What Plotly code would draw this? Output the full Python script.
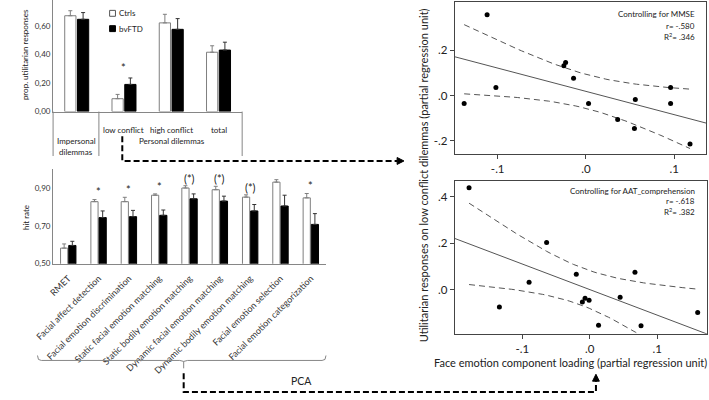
import numpy as np
import plotly.graph_objects as go

W, H = 709, 400
FONT = "Lato"

# ---------------- data ----------------
# Top-left: proportion of utilitarian responses
dil_cats = ["Impersonal", "low conflict", "high conflict", "total"]
dil_ctrl = [0.67, 0.09, 0.62, 0.415]
dil_ctrl_err = [0.035, 0.03, 0.06, 0.045]
dil_ftd = [0.645, 0.19, 0.575, 0.43]
dil_ftd_err = [0.047, 0.045, 0.075, 0.055]
dil_sig = ["", "*", "", ""]
dil_tickvals = [0.0, 0.2, 0.4, 0.6]
dil_ticktext = ["0,00", "0,20", "0,40", "0,60"]

# Bottom-left: emotion recognition hit rates
emo_cats = ["RMET", "Facial affect detection", "Facial emotion discrimination",
            "Static facial emotion matching", "Static bodily emotion matching",
            "Dynamic facial emotion matching", "Dynamic bodily emotion matching",
            "Facial emotion selection", "Facial emotion categorization"]
emo_ctrl = [0.582, 0.827, 0.827, 0.861, 0.899, 0.89, 0.851, 0.93, 0.847]
emo_ctrl_err = [0.022, 0.011, 0.023, 0.007, 0.012, 0.018, 0.012, 0.013, 0.023]
emo_ftd = [0.596, 0.743, 0.748, 0.755, 0.842, 0.83, 0.778, 0.804, 0.707]
emo_ftd_err = [0.022, 0.035, 0.033, 0.028, 0.026, 0.026, 0.034, 0.057, 0.057]
emo_sig = ["", "*", "*", "*", "(*)", "(*)", "(*)", "", "*"]
emo_tickvals = [0.5, 0.7, 0.9]
emo_ticktext = ["0,50", "0,70", "0,90"]

# Right: partial regression scatter plots
mmse_x = [-0.138, -0.112, -0.102, -0.025, -0.023, -0.014, 0.003, 0.036, 0.056, 0.055, 0.096, 0.096, 0.118]
mmse_y = [-0.035, 0.358, 0.036, 0.132, 0.147, 0.077, -0.035, -0.105, -0.017, -0.145, 0.036, -0.035, -0.214]
aat_x = [-0.179, -0.134, -0.090, -0.064, -0.020, -0.011, -0.007, -0.001, 0.013, 0.045, 0.067, 0.076, 0.160]
aat_y = [0.438, -0.075, 0.031, 0.202, 0.066, -0.053, -0.037, -0.046, -0.153, -0.033, 0.074, -0.156, -0.099]
scat_tickvals_x = [-0.1, 0.0, 0.1]
scat_ticktext_x = ["-.1", ".0", ".1"]
mmse_tickvals_y = [-0.2, 0.0, 0.2]
mmse_ticktext_y = ["-.2", ".0", ".2"]
aat_tickvals_y = [0.0, 0.2, 0.4]
aat_ticktext_y = [".0", ".2", ".4"]
mmse_stats = ["Controlling for MMSE", "r= -.580", "R<sup>2</sup>= .346"]
aat_stats = ["Controlling for AAT_comprehension", "r= -.618", "R<sup>2</sup>= .382"]

# ---------------- helpers ----------------
def PX(x):
    return x / W


def PY(y):
    return 1 - y / H


AX_GRAY = "#868686"

# axis ranges (layout)
mmse_xr = [-0.1488, 0.1362]
mmse_yr = [-0.258, 0.414]
aat_xr = [-0.2004, 0.1739]
aat_yr = [-0.19, 0.468]


def fit_band(x, y, xr):
    x = np.asarray(x, float)
    y = np.asarray(y, float)
    n = len(x)
    xm, ym = x.mean(), y.mean()
    sxx = ((x - xm) ** 2).sum()
    b1 = ((x - xm) * (y - ym)).sum() / sxx
    b0 = ym - b1 * xm
    s = np.sqrt(((y - (b0 + b1 * x)) ** 2).sum() / (n - 2))
    t = 2.201  # t(0.975, df=11)
    lx = np.array(xr)
    ly = b0 + b1 * lx
    bx = np.linspace(x.min(), x.max(), 60)
    by = b0 + b1 * bx
    half = t * s * np.sqrt(1 / n + (bx - xm) ** 2 / sxx)
    return lx, ly, bx, by + half, by - half


fig = go.Figure()

# ---- top-left bars ----
fig.add_trace(go.Bar(
    x=dil_cats, y=dil_ctrl, name="Ctrls", xaxis="x", yaxis="y",
    marker=dict(color="white", line=dict(color="#7f7f7f", width=1)),
    error_y=dict(type="data", array=dil_ctrl_err, arrayminus=[0] * len(dil_ctrl),
                 symmetric=False, color="#7f7f7f", thickness=1, width=2),
    showlegend=False))
fig.add_trace(go.Bar(
    x=dil_cats, y=dil_ftd, name="bvFTD", xaxis="x", yaxis="y",
    marker=dict(color="black", line=dict(color="black", width=1)),
    error_y=dict(type="data", array=dil_ftd_err, arrayminus=[0] * len(dil_ftd),
                 symmetric=False, color="#333333", thickness=1, width=2),
    showlegend=False))

# ---- bottom-left bars ----
fig.add_trace(go.Bar(
    x=emo_cats, y=emo_ctrl, name="Ctrls", xaxis="x2", yaxis="y2",
    marker=dict(color="white", line=dict(color="#7f7f7f", width=1)),
    error_y=dict(type="data", array=emo_ctrl_err, arrayminus=[0] * len(emo_ctrl),
                 symmetric=False, color="#7f7f7f", thickness=1, width=2),
    showlegend=False))
fig.add_trace(go.Bar(
    x=emo_cats, y=emo_ftd, name="bvFTD", xaxis="x2", yaxis="y2",
    marker=dict(color="black", line=dict(color="black", width=1)),
    error_y=dict(type="data", array=emo_ftd_err, arrayminus=[0] * len(emo_ftd),
                 symmetric=False, color="#333333", thickness=1, width=2),
    showlegend=False))

# ---- scatter panels ----
for (sx, sy, xr, xa, ya) in [(mmse_x, mmse_y, mmse_xr, "x3", "y3"),
                             (aat_x, aat_y, aat_xr, "x4", "y4")]:
    lx, ly, bx, up, lo = fit_band(sx, sy, xr)
    fig.add_trace(go.Scatter(x=lx, y=ly, mode="lines", xaxis=xa, yaxis=ya,
                             line=dict(color="#555555", width=1), showlegend=False))
    for band in (up, lo):
        fig.add_trace(go.Scatter(x=bx, y=band, mode="lines", xaxis=xa, yaxis=ya,
                                 line=dict(color="#555555", width=1, dash="6px,4px"),
                                 showlegend=False))
    fig.add_trace(go.Scatter(x=sx, y=sy, mode="markers", xaxis=xa, yaxis=ya,
                             marker=dict(color="black", size=5), showlegend=False))

tick_font_small = dict(family=FONT, size=8, color="#333333")
scat_tick_font = dict(family=FONT, size=11.5, color="#222222")

fig.update_layout(
    width=W, height=H,
    margin=dict(l=0, r=0, t=0, b=0),
    paper_bgcolor="white", plot_bgcolor="white",
    font=dict(family=FONT, color="#222222"),
    barmode="group", bargap=0.46, bargroupgap=0.12,
    showlegend=False,
    xaxis=dict(domain=[PX(36), PX(230)], anchor="y", showline=True, linecolor=AX_GRAY,
               linewidth=1, showticklabels=False, ticks="", showgrid=False,
               range=[-0.5, 3.5], fixedrange=True),
    yaxis=dict(domain=[PY(113), PY(0)], anchor="x", range=[0, 0.78], showline=True,
               linecolor=AX_GRAY, linewidth=1, tickvals=dil_tickvals, ticktext=dil_ticktext,
               ticks="", showgrid=False, zeroline=False, tickfont=tick_font_small),
    xaxis2=dict(domain=[PX(36), PX(316)], anchor="y2", showline=True, linecolor=AX_GRAY,
                linewidth=1, ticks="", showgrid=False, range=[-0.5, 8.5], tickangle=-45,
                ticklabelstandoff=5,
                tickfont=dict(family=FONT, size=9, color="#333333")),
    yaxis2=dict(domain=[PY(267), PY(171)], anchor="x2", range=[0.5, 1.0], showline=True,
                linecolor=AX_GRAY, linewidth=1, tickvals=emo_tickvals, ticktext=emo_ticktext,
                ticks="", showgrid=False, zeroline=False, tickfont=tick_font_small),
    xaxis3=dict(domain=[PX(448), PX(706)], anchor="y3", range=mmse_xr, showline=True,
                mirror=True, linecolor="#444444", linewidth=1, ticks="outside", ticklen=4,
                tickcolor="#444444", tickvals=scat_tickvals_x, ticktext=scat_ticktext_x,
                showgrid=False, zeroline=False, tickfont=scat_tick_font),
    yaxis3=dict(domain=[PY(156), PY(2)], anchor="x3", range=mmse_yr, showline=True,
                mirror=True, linecolor="#444444", linewidth=1, ticks="outside", ticklen=4,
                tickcolor="#444444", tickvals=mmse_tickvals_y, ticktext=mmse_ticktext_y,
                showgrid=False, zeroline=False, tickfont=scat_tick_font),
    xaxis4=dict(domain=[PX(448), PX(707)], anchor="y4", range=aat_xr, showline=True,
                mirror=True, linecolor="#444444", linewidth=1, ticks="outside", ticklen=4,
                tickcolor="#444444", tickvals=scat_tickvals_x, ticktext=scat_ticktext_x,
                showgrid=False, zeroline=False, tickfont=scat_tick_font),
    yaxis4=dict(domain=[PY(338), PY(183)], anchor="x4", range=aat_yr, showline=True,
                mirror=True, linecolor="#444444", linewidth=1, ticks="outside", ticklen=4,
                tickcolor="#444444", tickvals=aat_tickvals_y, ticktext=aat_ticktext_y,
                showgrid=False, zeroline=False, tickfont=scat_tick_font),
)

shapes = []
ann = []


def line(x0, y0, x1, y1, color=AX_GRAY, width=1, dash=None):
    d = dict(type="line", xref="paper", yref="paper", x0=PX(x0), y0=PY(y0),
             x1=PX(x1), y1=PY(y1), line=dict(color=color, width=width))
    if dash:
        d["line"]["dash"] = dash
    shapes.append(d)


def path(pts, color="black", width=1, dash=None, fill=None, closed=False):
    s = "M " + " L ".join(f"{PX(x):.5f},{PY(y):.5f}" for x, y in pts)
    if closed:
        s += " Z"
    d = dict(type="path", xref="paper", yref="paper", path=s,
             line=dict(color=color, width=width))
    if dash:
        d["line"]["dash"] = dash
    if fill:
        d["fillcolor"] = fill
    shapes.append(d)


def text(x, y, t, size=8, xanchor="center", yanchor="middle", angle=0, color="#222222"):
    ann.append(dict(xref="paper", yref="paper", x=PX(x), y=PY(y), text=t, showarrow=False,
                    xanchor=xanchor, yanchor=yanchor, textangle=angle,
                    font=dict(family=FONT, size=size, color=color)))


# top-left multi-level category separators
line(36, 113, 36, 158)
line(83, 113, 83, 158)
line(230, 113, 230, 158)
for cat in dil_cats[1:]:
    ann.append(dict(xref="x", yref="paper", x=cat, y=PY(124.5), text=cat, showarrow=False,
                    font=dict(family=FONT, size=8, color="#222222")))
text(60, 143, "Impersonal", 8)
text(60, 154, "dilemmas", 8)
text(158, 143, "Personal dilemmas", 8)

# legend
shapes.append(dict(type="rect", xref="paper", yref="paper", x0=PX(94), x1=PX(100),
                   y0=PY(16.5), y1=PY(10.5), fillcolor="white",
                   line=dict(color="#555555", width=1)))
shapes.append(dict(type="rect", xref="paper", yref="paper", x0=PX(94), x1=PX(100),
                   y0=PY(32), y1=PY(26), fillcolor="black", line=dict(color="black", width=1)))
text(101.5, 13.5, "Ctrls", 8, xanchor="left")
text(101.5, 29, "bvFTD", 8, xanchor="left")

# y titles of bar charts
text(8, 55, "prop. utilitarian responses", 8, angle=-90)
text(8, 220, "hit rate", 8, angle=-90)

# significance marks
for cat, c, ce, f, fe, s in zip(dil_cats, dil_ctrl, dil_ctrl_err, dil_ftd, dil_ftd_err, dil_sig):
    if s:
        ann.append(dict(xref="x", yref="y", x=cat, y=max(c + ce, f + fe) + 0.07, text=s,
                        showarrow=False, font=dict(family=FONT, size=11, color="#222222")))
for cat, c, ce, f, fe, s in zip(emo_cats, emo_ctrl, emo_ctrl_err, emo_ftd, emo_ftd_err, emo_sig):
    if s:
        ann.append(dict(xref="x2", yref="y2", x=cat, y=max(c + ce, f + fe) + 0.04, text=s,
                        showarrow=False, font=dict(family=FONT, size=11, color="#222222")))

# bracket below the rotated labels
path([(20, 360), (21, 364), (24, 365), (166, 365), (170, 366), (170, 373)], color=AX_GRAY)
path([(170, 366), (174, 365), (312, 365), (315, 364), (316, 360)], color=AX_GRAY)
text(291, 386, "PCA", 10.5)

# dashed connectors
DASH = "6px,3px"
path([(107, 138), (107, 163), (389, 163)], color="black", width=2, dash=DASH)
path([(389, 159.5), (396, 163), (389, 166.5)], color="black", width=1, fill="black", closed=True)
path([(170, 378), (170, 397), (593, 397), (593, 386)], color="black", width=2, dash=DASH)
path([(589.5, 386), (593, 379), (596.5, 386)], color="black", width=1, fill="black", closed=True)

# scatter titles
text(416, 177, "Utilitarian responses on low conflict dilemmas (partial regression unit)", 11,
     angle=-90)
text(567, 367, "Face emotion component loading (partial regression unit)", 11)

# stats text
for (ys, lines) in [((14, 26.5, 36.5), mmse_stats), ((193, 204, 214.5), aat_stats)]:
    for yy, t in zip(ys, lines):
        text(697, yy, t, 8, xanchor="right")

fig.update_layout(shapes=shapes, annotations=ann)
fig.write_html("out.html", config={"displayModeBar": False},
               post_script="document.body.style.margin='0';document.body.style.overflow='hidden';")
